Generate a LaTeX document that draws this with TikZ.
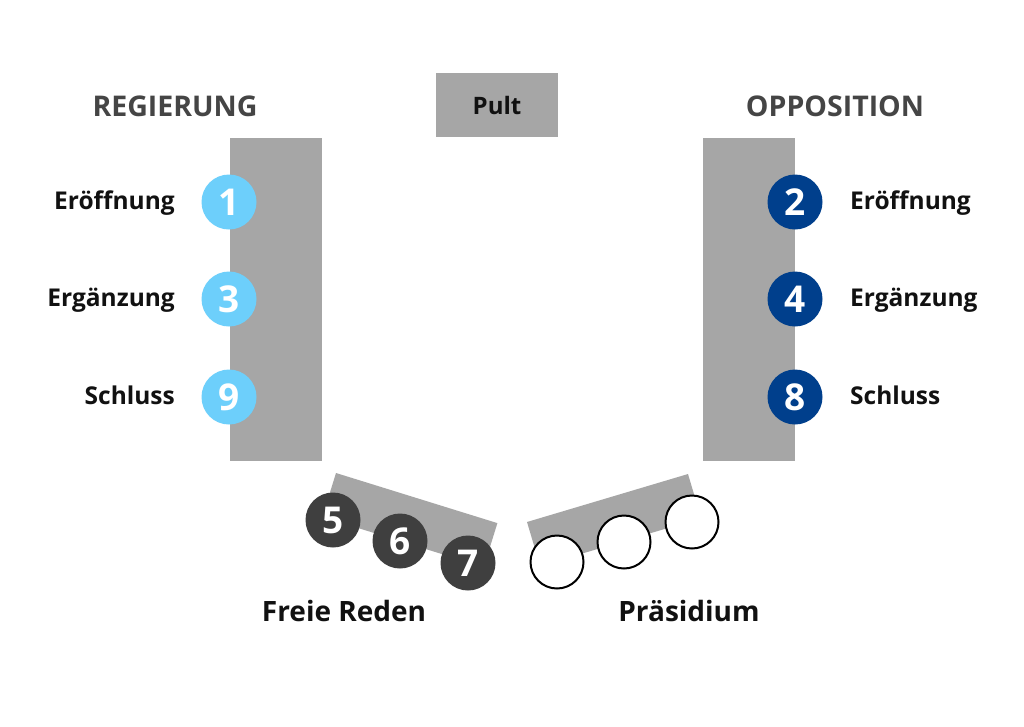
\documentclass[tikz,border=0pt]{standalone}
\usepackage{fontspec}
\setmainfont{Open Sans}
\definecolor{tablegray}{HTML}{A6A6A6}
\definecolor{lightblue}{HTML}{6DCFFB}
\definecolor{darkblue}{HTML}{003F8C}
\definecolor{darkgray}{HTML}{3F3F3F}
\definecolor{headgray}{HTML}{454545}
\definecolor{textblack}{HTML}{111111}
\begin{document}
\begin{tikzpicture}[x=1pt,y=-1pt,
  table/.style={fill=tablegray,draw=none},
  seatL/.style={circle,fill=lightblue,minimum size=55pt,inner sep=0pt,text=white,font=\fontsize{37}{37}\selectfont\bfseries},
  seatR/.style={circle,fill=darkblue,minimum size=55pt,inner sep=0pt,text=white,font=\fontsize{37}{37}\selectfont\bfseries},
  seatF/.style={circle,fill=darkgray,minimum size=55pt,inner sep=0pt,text=white,font=\fontsize{37}{37}\selectfont\bfseries},
  seatP/.style={circle,fill=white,draw=black,line width=2pt,minimum size=53pt,inner sep=0pt},
  role/.style={text=textblack,font=\fontsize{24.5}{24.5}\selectfont\bfseries,inner sep=0pt},
  head/.style={text=headgray,font=\fontsize{28.5}{28.5}\selectfont\bfseries,inner sep=0pt},
  foot/.style={text=textblack,font=\fontsize{28}{28}\selectfont\bfseries,inner sep=0pt}]
\useasboundingbox[fill=white] (0,0) rectangle (1024,726);
% tables
\fill[table] (230,138) rectangle (322,461);
\fill[table] (703,138) rectangle (795,461);
\node[table,minimum width=122pt,minimum height=64pt,inner sep=0pt,font=\fontsize{24}{24}\selectfont\bfseries,text=textblack] (pult) at (497,105) {Pult};
\fill[table,rotate around={-17.25:(336,473)}] (336,473) rectangle ++(169,46);
\fill[table,rotate around={16.6:(527,522)}] (527,522) rectangle ++(168,46);
% headers
\node[head] (reg) at (175,106) {REGIERUNG};
\node[head] (opp) at (835,106) {OPPOSITION};
% left seats
\node[seatL] (s1) at (229,202) {1};
\node[seatL] (s3) at (229,299) {3};
\node[seatL] (s9) at (229,397) {9};
\node[role,anchor=base east] (l1) at (175,209) {Eröffnung};
\node[role,anchor=base east] (l3) at (175,306) {Ergänzung};
\node[role,anchor=base east] (l9) at (175,404) {Schluss};
% right seats
\node[seatR] (s2) at (795,202) {2};
\node[seatR] (s4) at (795,299) {4};
\node[seatR] (s8) at (795,397) {8};
\node[role,anchor=base west] (r2) at (850,209) {Eröffnung};
\node[role,anchor=base west] (r4) at (850,306) {Ergänzung};
\node[role,anchor=base west] (r8) at (850,404) {Schluss};
% free speeches
\node[seatF] (s5) at (333,520) {5};
\node[seatF] (s6) at (400,541) {6};
\node[seatF] (s7) at (468,563) {7};
% presidium
\node[seatP] (p1) at (557,562) {};
\node[seatP] (p2) at (624,542) {};
\node[seatP] (p3) at (692,522) {};
% footers
\node[foot] (fr) at (344,611) {Freie Reden};
\node[foot] (pr) at (689,611) {Präsidium};
\end{tikzpicture}
\end{document}
